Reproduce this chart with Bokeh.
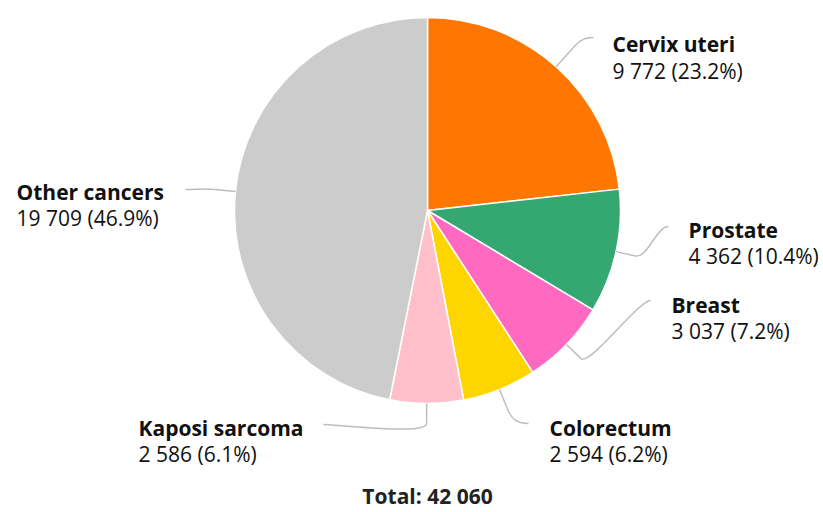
import math
from bokeh.plotting import figure
from bokeh.models import Range1d
from bokeh.core.properties import value
from bokeh.embed import file_html
from bokeh.resources import INLINE

# ---- data ----
categories = ["Cervix uteri", "Prostate", "Breast", "Colorectum", "Kaposi sarcoma", "Other cancers"]
counts = [9772, 4362, 3037, 2594, 2586, 19709]
colors = ["#FF7600", "#35A872", "#FF69C0", "#FFD500", "#FFC0CB", "#CCCCCC"]

# ---- layout (page pixel coords) ----
W, H = 823, 512
def P(X, Y):
    return X, H - Y

TEXT_DY = 8  # renderer places alphabetic baseline ~8px low

CX, CY = P(427, 210)
R = 193
# label left x, baseline line1, baseline line2, connector end (page), side
label_layout = [
    (612, 51, 78, (593, 37), "right"),
    (688, 237, 263, (668, 226), "right"),
    (671, 312, 338, (650, 300), "right"),
    (549, 435, 461, (528, 423), "right"),
    (138, 435, 461, (323, 424), "left"),
    (16, 199, 225, (185, 189), "left"),
]

FONT = "Open Sans"
FS = "21px"

total = sum(counts)
def fmt(n):
    return f"{n:,}".replace(",", " ")

p = figure(width=W, height=H, output_backend="svg", toolbar_location=None,
           x_range=Range1d(0, W), y_range=Range1d(0, H), min_border=0)
p.axis.visible = False
p.grid.visible = False
p.outline_line_color = None
p.background_fill_color = "white"

starts, ends, mids = [], [], []
cum = 0.0
for c in counts:
    f0 = cum / total
    cum += c
    f1 = cum / total
    starts.append(math.pi / 2 - 2 * math.pi * f0)
    ends.append(math.pi / 2 - 2 * math.pi * f1)
    mids.append(math.pi / 2 - 2 * math.pi * (f0 + f1) / 2)

p.wedge(x=CX, y=CY, radius=R, start_angle=starts, end_angle=ends, direction="clock",
        fill_color=colors, line_color="white", line_width=1.5)

# connectors
L, K = 20, 12
for m, (lx, b1, b2, end, side) in zip(mids, label_layout):
    ux, uy = math.cos(m), math.sin(m)
    sx, sy = CX + R * ux, CY + R * uy
    ax, ay = CX + (R + L) * ux, CY + (R + L) * uy
    ex, ey = P(*end)
    p.line([sx, ax], [sy, ay], line_color="#BDBDBD", line_width=1.5)
    hx = -K if side == "right" else K
    p.bezier(x0=ax, y0=ay, x1=ex, y1=ey, cx0=ax + ux * K, cy0=ay + uy * K,
             cx1=ex + hx, cy1=ey, line_color="#BDBDBD", line_width=1.5)

# labels
for cat, n, (lx, b1, b2, end, side) in zip(categories, counts, label_layout):
    x1, y1 = P(lx, b1 - TEXT_DY)
    x2, y2 = P(lx, b2 - TEXT_DY)
    p.text(x=[x1], y=[y1], text=[cat], text_font=value(FONT), text_font_size=FS,
           text_font_style="bold", text_color="#111111", text_baseline="alphabetic",
           text_align="left")
    pct = 100 * n / total
    p.text(x=[x2], y=[y2], text=[f"{fmt(n)} ({pct:.1f}%)"], text_font=value(FONT),
           text_font_size=FS, text_color="#111111", text_baseline="alphabetic",
           text_align="left")

tx, ty = P(427, 503 - TEXT_DY)
p.text(x=[tx], y=[ty], text=[f"Total: {fmt(total)}"], text_font=value(FONT),
       text_font_size=FS, text_font_style="bold", text_color="#222222",
       text_baseline="alphabetic", text_align="center")

open("out.html", "w").write(file_html(p, INLINE))
